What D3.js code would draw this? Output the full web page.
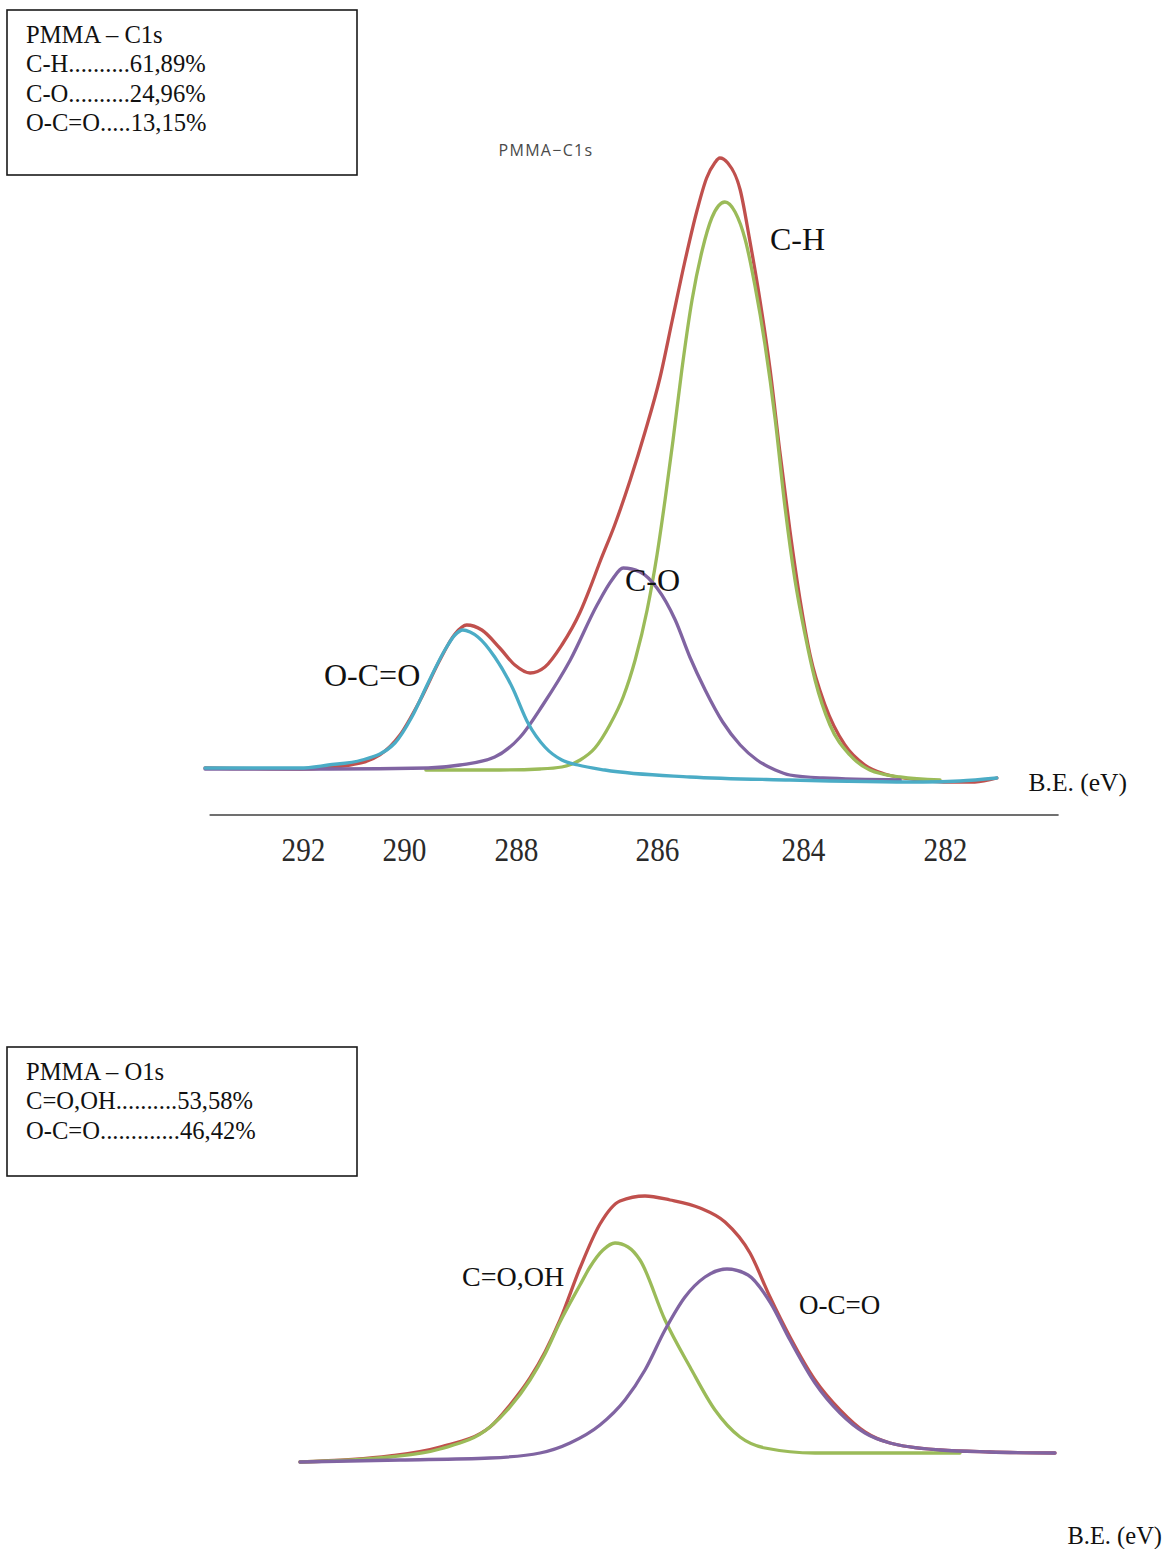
<!DOCTYPE html>
<html>
<head>
<meta charset="utf-8">
<script src="https://cdn.jsdelivr.net/npm/d3@7"></script>
<style>
  html, body { margin: 0; padding: 0; background: #fff; }
  svg { display: block; }
  .serif { font-family: "Liberation Serif", "Times New Roman", serif; fill: #111; }
</style>
</head>
<body>
<svg id="fig" width="1167" height="1549"></svg>
<script>
// ---------- C1s spectrum: [binding energy (eV), counts] ----------
const c1sTotal = [
  [293.94, 32], [292.06, 31], [291.07, 35], [290.48, 45], [290.08, 65], [289.71, 100],
  [289.36, 140], [289.09, 166], [288.88, 175], [288.61, 170], [288.29, 152], [288.02, 135],
  [287.80, 127], [287.59, 133], [287.35, 155], [287.09, 188], [286.95, 212], [286.81, 238],
  [286.60, 275], [286.38, 320], [286.17, 368], [285.96, 422], [285.79, 480], [285.62, 538],
  [285.45, 590], [285.32, 622], [285.21, 637], [285.14, 642], [285.03, 637], [284.86, 610],
  [284.73, 560], [284.59, 500], [284.45, 430], [284.32, 350], [284.18, 270], [284.04, 200],
  [283.90, 145], [283.69, 95], [283.41, 55], [283.13, 35], [282.85, 26], [282.35, 20],
  [281.93, 18], [281.58, 18], [281.27, 22]
];
const c1sCH = [
  [289.61, 30], [288.29, 30], [287.66, 31], [287.35, 33], [287.09, 40], [286.88, 52],
  [286.67, 75], [286.48, 103], [286.31, 140], [286.14, 190], [286.00, 245], [285.89, 300],
  [285.78, 360], [285.66, 430], [285.52, 500], [285.38, 550], [285.25, 582], [285.07, 598],
  [284.93, 588], [284.79, 560], [284.66, 515], [284.52, 455], [284.38, 380], [284.25, 295],
  [284.11, 220], [283.97, 165], [283.83, 120], [283.62, 75], [283.34, 45], [283.06, 30],
  [282.63, 23], [282.07, 20]
];
const c1sCO = [
  [293.94, 31], [291.47, 31], [289.57, 32], [289.00, 35], [288.38, 43], [287.94, 63],
  [287.62, 95], [287.23, 140], [286.85, 195], [286.64, 220], [286.48, 232], [286.24, 228],
  [286.00, 212], [285.75, 180], [285.55, 143], [285.34, 110], [285.10, 78], [284.86, 55],
  [284.63, 40], [284.38, 30], [284.18, 25], [283.72, 22], [282.63, 20]
];
const c1sOCO = [
  [293.94, 32], [292.85, 32], [292.06, 32], [291.50, 35], [290.83, 40], [290.18, 57],
  [289.86, 83], [289.57, 117], [289.27, 150], [289.09, 165], [288.95, 170], [288.82, 168],
  [288.68, 163], [288.38, 143], [288.07, 113], [287.83, 77], [287.59, 53], [287.35, 40],
  [287.12, 35], [286.74, 30], [285.55, 23], [284.18, 20], [282.31, 18], [281.79, 19],
  [281.27, 22]
];
const c1sTicks = [292, 290, 288, 286, 284, 282];
const c1sSummary = ["PMMA – C1s", "C-H..........61,89%", "C-O..........24,96%", "O-C=O.....13,15%"];

// ---------- O1s spectrum: [binding energy (eV), counts] ----------
const o1sTotal = [
  [540.0, 38], [538.2, 44], [537.2, 53], [536.2, 73], [535.8, 95], [535.4, 122],
  [535.1, 148], [534.8, 180], [534.4, 232], [534.0, 276], [533.6, 299], [533.1, 304],
  [532.6, 300], [532.0, 292], [531.5, 278], [531.0, 247], [530.6, 203], [530.2, 163],
  [529.7, 120], [529.2, 90], [528.7, 68], [528.2, 57], [527.2, 50], [526.2, 48], [524.9, 47]
];
const o1sCO = [
  [540.0, 38], [538.2, 43], [537.2, 51], [536.2, 73], [535.8, 93], [535.4, 120],
  [535.1, 146], [534.8, 178], [534.4, 215], [534.2, 233], [533.94, 250], [533.7, 257],
  [533.44, 253], [533.2, 240], [532.7, 180], [532.2, 133], [531.7, 90], [531.2, 63],
  [530.7, 52], [529.7, 47], [528.2, 47], [526.8, 47]
];
const o1sOCO = [
  [540.0, 38], [538.0, 40], [536.2, 42], [535.2, 47], [534.6, 57], [534.0, 75],
  [533.5, 100], [533.1, 130], [532.7, 170], [532.3, 203], [531.9, 223], [531.46, 231],
  [531.04, 225], [530.6, 198], [530.2, 160], [529.7, 117], [529.2, 87], [528.7, 67],
  [528.2, 57], [527.2, 50], [526.2, 48], [524.9, 47]
];
const o1sSummary = ["PMMA – O1s", "C=O,OH..........53,58%", "O-C=O.............46,42%"];

const colors = { total: "#c0504d", ch: "#9bbb59", co: "#8064a2", oco: "#4bacc6" };

const svg = d3.select("#fig");
svg.append("rect").attr("width", 1167).attr("height", 1549).attr("fill", "#fff");

// ---------- summary boxes ----------
function summaryBox(lines, x, y, w, h) {
  const g = svg.append("g");
  g.append("rect").attr("x", x).attr("y", y).attr("width", w).attr("height", h)
    .attr("fill", "#fff").attr("stroke", "#1a1a1a").attr("stroke-width", 1.6);
  g.selectAll("text").data(lines).join("text")
    .attr("class", "serif")
    .attr("x", x + 19)
    .attr("y", (d, i) => y + 33 + i * 29.3)
    .style("font-size", "24.6px")
    .text(d => d);
}
summaryBox(c1sSummary, 7, 10, 350, 165);
summaryBox(o1sSummary, 7, 1047, 350, 129);

// ---------- C1s panel ----------
// energy axis was laid out with uneven spacing between labels, so the scale is piecewise
const xC = d3.scaleLinear().domain(c1sTicks).range([303, 404, 516, 657, 803, 945]);
const yC = d3.scaleLinear().domain([0, 650]).range([800, 150]);

const lineC = d3.line().x(d => xC(d[0])).y(d => yC(d[1])).curve(d3.curveMonotoneX);

const gC = svg.append("g");
[[c1sTotal, colors.total], [c1sCH, colors.ch], [c1sCO, colors.co], [c1sOCO, colors.oco]]
  .forEach(([data, col]) => {
    gC.append("path").datum(data).attr("d", lineC)
      .attr("fill", "none").attr("stroke", col).attr("stroke-width", 3.3)
      .attr("stroke-linejoin", "round").attr("stroke-linecap", "round");
  });

// axis baseline and labels
gC.append("line")
  .attr("x1", xC(293.85)).attr("x2", xC(280.4))
  .attr("y1", 815).attr("y2", 815)
  .attr("stroke", "#707070").attr("stroke-width", 2);

const axisC = d3.axisBottom(xC).tickValues(c1sTicks).tickSize(0).tickPadding(22).tickFormat(d3.format("d"));
const axG = gC.append("g").attr("transform", "translate(0,815)").call(axisC);
axG.select(".domain").remove();
axG.selectAll("text")
  .attr("class", "serif")
  .style("font-size", "34px")
  .style("fill", "#2a2a2a")
  .attr("transform", "scale(0.86,1)");

gC.append("text").attr("class", "serif").attr("x", 1127).attr("y", 791)
  .attr("text-anchor", "end")
  .style("font-size", "25.5px").text("B.E. (eV)");

gC.append("text").attr("x", 546).attr("y", 156)
  .attr("text-anchor", "middle")
  .style("font-family", "'Open Sans', sans-serif")
  .style("font-size", "16px").style("letter-spacing", "1.3px")
  .style("fill", "#4a4a4a").text("PMMA−C1s");

gC.append("text").attr("class", "serif").attr("x", 770).attr("y", 250).style("font-size", "32px").text("C-H");
gC.append("text").attr("class", "serif").attr("x", 625).attr("y", 591).style("font-size", "32px").text("C-O");
gC.append("text").attr("class", "serif").attr("x", 324).attr("y", 686).style("font-size", "32px").text("O-C=O");

// ---------- O1s panel ----------
const xO = d3.scaleLinear().domain([540, 525]).range([300, 1050]);
const yO = d3.scaleLinear().domain([0, 320]).range([1500, 1180]);
const lineO = d3.line().x(d => xO(d[0])).y(d => yO(d[1])).curve(d3.curveMonotoneX);

const gO = svg.append("g");
[[o1sTotal, colors.total], [o1sCO, colors.ch], [o1sOCO, colors.co]]
  .forEach(([data, col]) => {
    gO.append("path").datum(data).attr("d", lineO)
      .attr("fill", "none").attr("stroke", col).attr("stroke-width", 3.3)
      .attr("stroke-linejoin", "round").attr("stroke-linecap", "round");
  });

gO.append("text").attr("class", "serif").attr("x", 462).attr("y", 1286).style("font-size", "28px").text("C=O,OH");
gO.append("text").attr("class", "serif").attr("x", 799).attr("y", 1314).style("font-size", "27px").text("O-C=O");
gO.append("text").attr("class", "serif").attr("x", 1162).attr("y", 1544)
  .attr("text-anchor", "end")
  .style("font-size", "24.5px").text("B.E. (eV)");
</script>
</body>
</html>
